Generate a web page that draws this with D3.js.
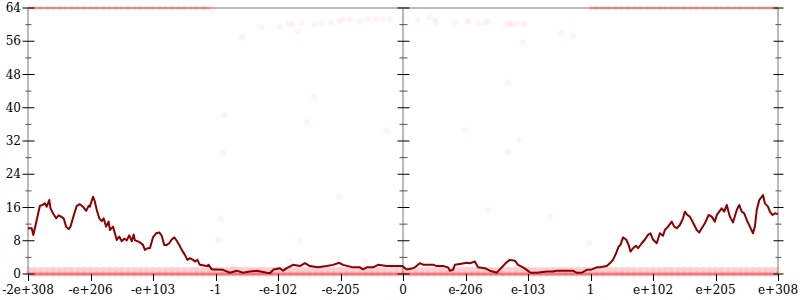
<!DOCTYPE html>
<html><head><meta charset="utf-8">
<script src="https://cdn.jsdelivr.net/npm/d3@7"></script>
<style>body{margin:0;background:#fff}svg{display:block}</style>
</head><body><svg id="c" width="800" height="300"></svg>
<script>
// ---- data ----
const xTickPos = [-6,-5,-4,-3,-2,-1,0,1,2,3,4,5,6];
const xTickLabels = ["-2e+308","-e+206","-e+103","-1","-e-102","-e-205","0","e-206","e-103","1","e+102","e+205","e+308"];
const yMajorTicks = [0,8,16,24,32,40,48,56,64];
const yMinorTicks = [4,12,20,28,36,44,52,60];

const linePos = [-6.0,-5.94,-5.915,-5.86,-5.81,-5.77,-5.73,-5.70,-5.66,-5.64,-5.60,-5.55,-5.51,-5.47,-5.43,-5.39,-5.35,-5.32,-5.27,-5.22,-5.17,-5.12,-5.07,-5.03,-5.01,-4.96,-4.93,-4.90,-4.86,-4.82,-4.79,-4.75,-4.71,-4.69,-4.64,-4.61,-4.58,-4.54,-4.50,-4.46,-4.42,-4.38,-4.34,-4.31,-4.29,-4.25,-4.21,-4.16,-4.13,-4.09,-4.05,-4.00,-3.95,-3.90,-3.86,-3.82,-3.78,-3.74,-3.70,-3.66,-3.62,-3.58,-3.54,-3.49,-3.45,-3.41,-3.36,-3.33,-3.29,-3.25,-3.14,-3.11,-3.06,-2.98,-2.88,-2.77,-2.66,-2.56,-2.45,-2.34,-2.18,-2.13,-2.07,-1.97,-1.92,-1.86,-1.76,-1.65,-1.57,-1.49,-1.36,-1.22,-1.12,-1.02,-0.96,-0.88,-0.80,-0.69,-0.64,-0.58,-0.48,-0.40,-0.26,-0.01,0.06,0.14,0.19,0.27,0.33,0.49,0.54,0.65,0.72,0.75,0.80,0.83,0.91,1.02,1.07,1.15,1.20,1.31,1.39,1.50,1.55,1.65,1.71,1.79,1.84,1.92,1.98,2.04,2.14,2.30,2.40,2.46,2.62,2.72,2.78,2.86,2.94,3.02,3.10,3.15,3.26,3.31,3.36,3.41,3.45,3.48,3.52,3.57,3.61,3.64,3.68,3.73,3.76,3.82,3.87,3.92,3.96,4.00,4.06,4.11,4.16,4.19,4.24,4.30,4.34,4.38,4.43,4.48,4.51,4.55,4.59,4.64,4.70,4.74,4.78,4.83,4.89,4.94,4.99,5.02,5.06,5.10,5.14,5.18,5.23,5.28,5.34,5.38,5.42,5.46,5.50,5.55,5.60,5.63,5.66,5.70,5.76,5.79,5.84,5.87,5.91,5.95,6.0];
const lineVal = [11.0,11.0,9.4,13.0,16.4,16.6,17.0,16.2,17.8,15.8,14.6,13.4,14.1,13.8,13.4,11.4,10.8,11.4,14.0,16.4,16.8,16.2,15.2,16.4,16.2,18.6,17.4,15.4,13.4,12.7,13.4,11.4,12.6,10.6,11.4,9.8,8.2,9.0,7.9,8.5,8.1,9.3,7.9,9.5,8.1,7.9,7.6,7.0,5.8,6.2,6.2,8.8,9.8,10.0,9.2,7.0,7.0,7.4,8.3,8.8,8.0,7.0,5.8,4.6,3.4,3.8,3.4,3.0,3.4,2.2,1.9,2.2,1.1,1.1,1.0,0.3,0.8,0.3,0.6,0.8,0.3,0.2,1.1,1.4,0.8,1.4,2.2,1.9,2.6,1.9,1.6,1.9,2.2,2.7,2.2,1.9,1.6,1.6,1.1,1.6,1.6,2.2,1.9,1.9,1.1,1.3,1.6,2.6,2.2,2.2,1.9,1.9,1.6,0.8,1.0,2.2,2.4,2.7,2.6,3.0,1.6,1.4,0.8,0.3,1.1,2.7,3.4,3.2,2.2,1.6,1.0,0.3,0.3,0.6,0.6,0.8,0.8,0.8,0.3,0.3,1.0,1.1,1.6,1.6,1.9,2.6,3.4,5.0,6.6,7.0,8.8,8.3,7.0,5.4,6.2,6.8,6.2,7.4,8.3,9.4,9.8,8.3,7.4,9.8,9.2,10.6,11.4,12.6,11.4,11.0,11.8,13.4,15.0,14.2,13.8,12.4,10.6,10.0,11.0,12.2,14.2,13.8,12.6,14.2,15.0,15.8,15.0,16.6,13.8,12.4,15.4,16.6,15.0,14.6,13.0,11.4,9.8,11.4,15.4,17.8,19.0,17.0,16.2,15.0,14.2,14.6,14.4];

const scatterPos = [-3.18,-3.04,-2.58,-2.26,-1.98,-1.82,-1.76,-1.68,-1.62,-1.42,-1.31,-1.15,-1.02,-0.96,-0.85,-0.69,-0.56,-0.42,-0.32,-0.21,-1.42,-2.86,-1.54,-0.27,-2.88,-1.02,-2.92,-2.96,-1.65,-1.81,-0.60,-2.72,0.005,0.23,0.42,0.51,0.53,0.83,1.02,1.06,1.20,1.31,1.35,1.65,1.71,1.74,1.82,1.94,2.54,2.72,1.92,1.67,1.00,1.86,1.68,1.36,2.35,2.98];
const scatterVal = [63.9,63.9,56.9,59.3,59.5,60.2,60.2,58.4,60.3,60.2,60.5,60.6,60.9,61.3,61.3,60.7,61.4,61.3,61.3,61.3,42.6,38.2,36.6,34.5,29.2,18.6,13.4,8.2,8.0,3.2,3.2,1.7,61.5,61.1,61.7,61.1,60.6,60.6,60.9,60.9,60.2,60.3,60.8,59.9,60.3,59.9,60.2,60.2,57.9,57.3,55.7,46.0,34.6,32.2,29.4,15.4,13.8,7.4];

const bandPos = [-6.0,-5.9,-5.8,-5.7,-5.6,-5.5,-5.4,-5.3,-5.2,-5.1,-5.0,-4.9,-4.8,-4.7,-4.6,-4.5,-4.4,-4.3,-4.2,-4.1,-4.0,-3.9,-3.8,-3.7,-3.6,-3.5,-3.4,-3.3,-3.2,-3.1,-3.0,-2.9,-2.8,-2.7,-2.6,-2.5,-2.4,-2.3,-2.2,-2.1,-2.0,-1.9,-1.8,-1.7,-1.6,-1.5,-1.4,-1.3,-1.2,-1.1,-1.0,-0.9,-0.8,-0.7,-0.6,-0.5,-0.4,-0.3,-0.2,-0.1,0.0,0.1,0.2,0.3,0.4,0.5,0.6,0.7,0.8,0.9,1.0,1.1,1.2,1.3,1.4,1.5,1.6,1.7,1.8,1.9,2.0,2.1,2.2,2.3,2.4,2.5,2.6,2.7,2.8,2.9,3.0,3.1,3.2,3.3,3.4,3.5,3.6,3.7,3.8,3.9,4.0,4.1,4.2,4.3,4.4,4.5,4.6,4.7,4.8,4.9,5.0,5.1,5.2,5.3,5.4,5.5,5.6,5.7,5.8,5.9,6.0];
const bottomBandLevels = [0, 1];
const topBandLevel = 64;
const topBandLeftMax = -3.1, topBandRightMin = 3.0;

// ---- drawing ----
const svg = d3.select("#c");
const x = d3.scaleLinear().domain([-6, 6]).range([28, 778]);
const y = d3.scaleLinear().domain([0, 64]).range([274, 8]);
const FONT = "DejaVu Serif, serif";
const bandLine = d3.line().x(d => x(d[0])).y(d => y(d[1]));

// frame lines
const frame = svg.append("g").attr("stroke", "#bbb").attr("stroke-width", 2);
frame.append("line").attr("x1", x(-6)).attr("x2", x(6)).attr("y1", y(64)).attr("y2", y(64));
[-6, 0, 6].forEach(p => frame.append("line").attr("x1", x(p)).attr("x2", x(p)).attr("y1", y(0)).attr("y2", y(64)));

// dots: bottom bands (level 1 light, level 0 stronger), drawn as overlapping marks
const dots = svg.append("g");
dots.append("path").datum(bandPos.map(p => [p, bottomBandLevels[1]]))
  .attr("d", bandLine).attr("fill", "none").attr("stroke", "#f25060")
  .attr("stroke-opacity", 0.22).attr("stroke-width", 5);
dots.append("path").datum(bandPos.map(p => [p, bottomBandLevels[0]]))
  .attr("d", bandLine).attr("fill", "none").attr("stroke", "#e81c28")
  .attr("stroke-opacity", 0.55).attr("stroke-width", 3);
bottomBandLevels.forEach((lv, i) => {
  dots.selectAll(null).data(bandPos).join("circle")
    .attr("cx", d => x(d)).attr("cy", y(lv)).attr("r", 3)
    .attr("fill", "#e8202a").attr("fill-opacity", i === 0 ? 0.12 : 0.06);
});
const topPos = bandPos.filter(p => p <= topBandLeftMax || p >= topBandRightMin);
dots.append("path").datum(topPos.filter(p => p <= topBandLeftMax).map(p => [p, topBandLevel]))
  .attr("d", bandLine).attr("fill", "none").attr("stroke", "#f03040")
  .attr("stroke-opacity", 0.2).attr("stroke-width", 3);
dots.append("path").datum(topPos.filter(p => p >= topBandRightMin).map(p => [p, topBandLevel]))
  .attr("d", bandLine).attr("fill", "none").attr("stroke", "#f03040")
  .attr("stroke-opacity", 0.25).attr("stroke-width", 3);
dots.selectAll(null).data(topPos).join("circle")
  .attr("cx", d => x(d)).attr("cy", y(topBandLevel)).attr("r", 2.5)
  .attr("fill", "#e8202a").attr("fill-opacity", 0.08);
dots.selectAll(null).data(scatterPos.map((p, i) => [p, scatterVal[i]])).join("circle")
  .attr("cx", d => x(d[0])).attr("cy", d => y(d[1])).attr("r", 3)
  .attr("fill", "#f04050").attr("fill-opacity", 0.06);

// line
svg.append("path")
  .datum(linePos.map((p, i) => [p, lineVal[i]]))
  .attr("fill", "none").attr("stroke", "#8b0000").attr("stroke-width", 2)
  .attr("stroke-linejoin", "round")
  .attr("d", d3.line().x(d => x(d[0])).y(d => y(d[1])));

// y ticks on three vertical axes
const tk = svg.append("g").attr("stroke", "#000").attr("stroke-width", 1);
[[-6, 6, 3], [0, 6, 4], [6, 5, 3]].forEach(([p, maj, min]) => {
  const cx = Math.round(x(p)) + 0.5;
  yMajorTicks.forEach(v => tk.append("line").attr("x1", cx - maj).attr("x2", cx + maj).attr("y1", y(v)).attr("y2", y(v)));
  yMinorTicks.forEach(v => tk.append("line").attr("x1", cx - min).attr("x2", cx + min).attr("y1", y(v)).attr("y2", y(v)).attr("stroke", "#555"));
});

// y labels
svg.append("g").selectAll("text").data(yMajorTicks).join("text")
  .attr("x", 21).attr("y", d => y(d)).attr("dy", "0.35em")
  .attr("text-anchor", "end").attr("font-family", FONT).attr("font-size", 12)
  .attr("fill", "#000").text(d => d);

// x ticks + labels
const xg = svg.append("g");
xg.selectAll("line").data(xTickPos).join("line")
  .attr("x1", d => Math.round(x(d)) + 0.5).attr("x2", d => Math.round(x(d)) + 0.5)
  .attr("y1", 274).attr("y2", 281).attr("stroke", "#000");
xg.selectAll("text").data(xTickPos).join("text")
  .attr("x", d => x(d)).attr("y", 294)
  .attr("text-anchor", "middle").attr("font-family", FONT).attr("font-size", 12)
  .attr("fill", "#000").text((d, i) => xTickLabels[i]);
</script></body></html>
